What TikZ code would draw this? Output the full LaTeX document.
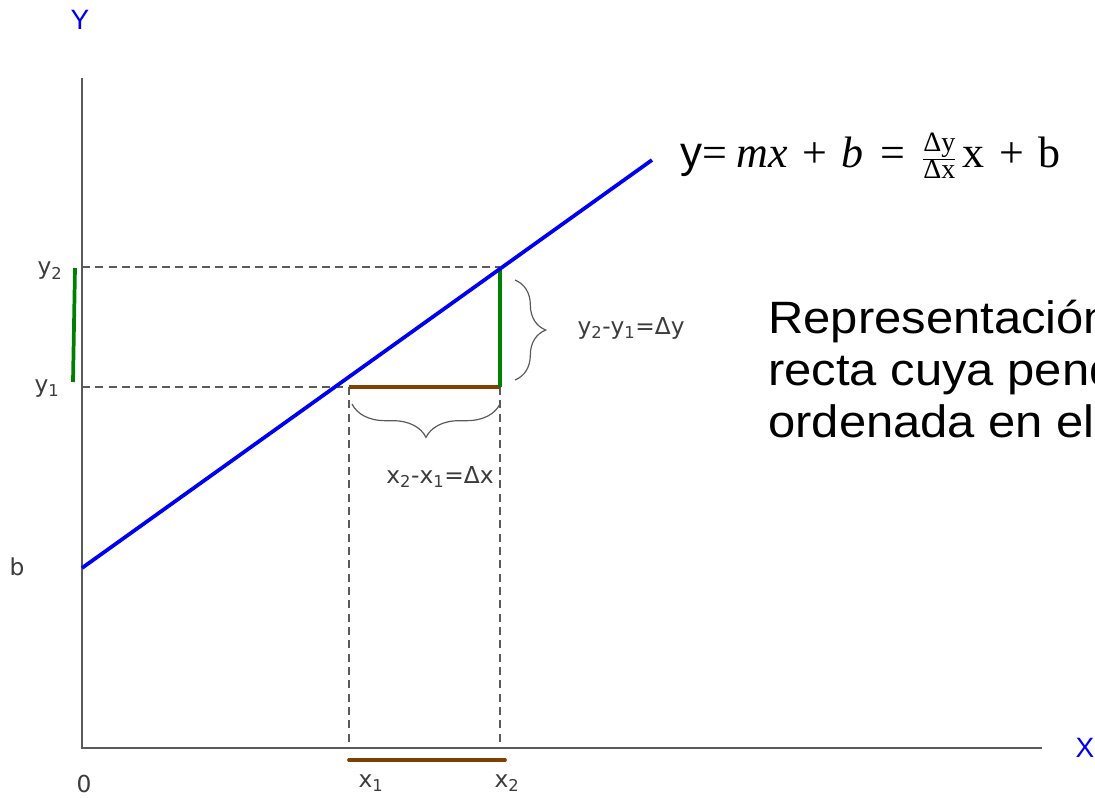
\documentclass[tikz,border=0pt]{standalone}
\usepackage{fontspec}
\setmainfont{Liberation Sans}
\newfontfamily\verd{DejaVu Sans}
\newfontfamily\serifrm{Liberation Serif}
\usetikzlibrary{decorations.pathreplacing}
\definecolor{axisgray}{RGB}{90,90,90}
\definecolor{lineblue}{RGB}{0,0,240}
\definecolor{greenseg}{RGB}{0,128,0}
\definecolor{brownseg}{RGB}{128,64,0}
\definecolor{labgray}{RGB}{60,60,60}
\newcommand{\sbs}[1]{\textsubscript{#1}}
\newcommand{\srm}[1]{\mbox{\serifrm #1}}
\newcommand{\sit}[1]{\mbox{\serifrm\itshape #1}}
\newcommand{\seq}{\mathrel{\mbox{\serifrm\,=\,}}}
\newcommand{\spl}{\mathbin{\mbox{\serifrm\,+\,}}}
\newcommand{\sfr}[1]{\mbox{\serifrm\fontsize{21}{23}\selectfont #1}}
\begin{document}
\begin{tikzpicture}[x=0.75pt,y=-0.75pt,
  axis/.style={draw=axisgray,line width=1.4pt},
  guide/.style={draw=axisgray,line width=0.9pt,dash pattern=on 6pt off 4pt},
  mainline/.style={draw=lineblue,line width=2.8pt},
  greenline/.style={draw=greenseg,line width=2.8pt},
  brownline/.style={draw=brownseg,line width=2.8pt},
  smalllab/.style={font=\verd\fontsize{17.5}{20}\selectfont,text=labgray,inner sep=1pt},
  axislab/.style={font=\fontsize{21}{24}\selectfont,text=lineblue,inner sep=0pt},
  bracestyle/.style={draw=axisgray,line width=0.9pt,decorate},
  bigtext/.style={font=\fontsize{34}{39}\selectfont,inner sep=0pt,anchor=base west,xscale=1.08}]
\useasboundingbox (0,0) rectangle (1095,797);
\clip (0,0) rectangle (1095,797);
% points
\coordinate (O) at (82,748);
\coordinate (Ytop) at (82,78);
\coordinate (Xend) at (1042,748);
\coordinate (B) at (82,568);
\coordinate (Lend) at (652,160);
\coordinate (Y2a) at (82,267);
\coordinate (Y1a) at (82,387);
\coordinate (P1) at (349,387);
\coordinate (P2) at (500,387);
\coordinate (P3) at (500,267);
\coordinate (X1a) at (349,748);
\coordinate (X2a) at (500,748);
\coordinate (Bx1) at (349,760);
\coordinate (Bx2) at (505,760);
\coordinate (G1) at (75,268);
\coordinate (G2) at (73,382);
\coordinate (Br1) at (515,280);
\coordinate (Br2) at (515,380);
\coordinate (Bb1) at (500,404);
\coordinate (Bb2) at (352,404);
% guides
\draw[guide] (Y2a) -- (P3);
\draw[guide] (Y1a) -- (P1);
\draw[guide] (P1) -- (X1a);
\draw[guide] (P2) -- (X2a);
% axes
\draw[axis] (Ytop) -- (O) -- (Xend);
% segments
\draw[brownline] (P1) -- (P2);
\draw[greenline] (P2) -- (P3);
\draw[greenline] (G1) -- (G2);
\draw[brownline,line cap=round] (Bx1) -- (Bx2);
\draw[mainline] (B) -- (Lend);
% braces
\draw[bracestyle,decoration={brace,amplitude=23pt}] (Br1) -- (Br2);
\draw[bracestyle,decoration={brace,amplitude=25pt}] (Bb1) -- (Bb2);
% labels
\node[axislab] (ylab) at (80,20) {Y};
\node[axislab] (xlab) at (1085,748) {X};
\node[smalllab] (zero) at (84,784) {0};
\node[smalllab] (blab) at (17,567) {b};
\node[smalllab] (y2lab) at (50,271) {y\sbs{2}};
\node[smalllab] (y1lab) at (47,389) {y\sbs{1}};
\node[smalllab] (x1lab) at (371,783) {x\sbs{1}};
\node[smalllab] (x2lab) at (507,783) {x\sbs{2}};
\node[smalllab,anchor=west] (dylab) at (576,328) {y\sbs{2}-y\sbs{1}=Δy};
\node[smalllab] (dxlab) at (440,477) {x\sbs{2}-x\sbs{1}=Δx};
\node[anchor=west,inner sep=0pt,font=\fontsize{33}{38}\selectfont] (eq) at (680,156)
  {y\mbox{\serifrm =}$\;\sit{mx}\spl\sit{b}\seq\frac{\sfr{Δy}}{\sfr{Δx}}\,\srm{x}\spl\srm{b}$};
\node[bigtext] (t1) at (768,333) {Representación};
\node[bigtext] (t2) at (768,385) {recta cuya pend};
\node[bigtext] (t3) at (768,437) {ordenada en el};
\end{tikzpicture}
\end{document}
